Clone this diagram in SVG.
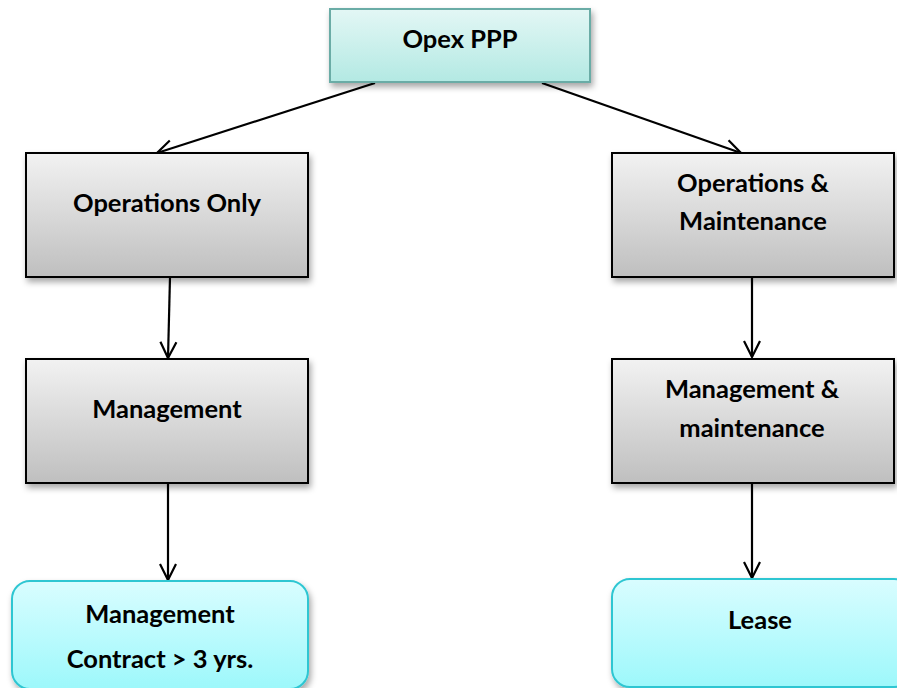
<svg xmlns="http://www.w3.org/2000/svg" width="897" height="688" viewBox="0 0 897 688">
<style>
text{font-family:Lato,"Open Sans","Liberation Sans",sans-serif;font-weight:bold;font-size:25.5px;fill:#000;text-anchor:middle}
.gray{fill:url(#g);stroke:#000;stroke-width:2;filter:url(#sh)}
.top{fill:url(#t);stroke:#6aaca6;stroke-width:2;filter:url(#sh)}
.cyan{fill:url(#c);stroke:#2ec6d2;stroke-width:2;filter:url(#sh)}
.con line{stroke:#000;stroke-width:2.2;marker-end:url(#a)}
</style>
<defs>
<linearGradient id="g" x1="0" y1="0" x2="0" y2="1"><stop offset="0" stop-color="#f2f2f2"/><stop offset="1" stop-color="#bfbfbf"/></linearGradient>
<linearGradient id="t" x1="0" y1="0" x2="0" y2="1"><stop offset="0" stop-color="#e3f7f5"/><stop offset="1" stop-color="#b3e9e3"/></linearGradient>
<linearGradient id="c" x1="0" y1="0" x2="0" y2="1"><stop offset="0" stop-color="#d9fdff"/><stop offset="1" stop-color="#9df8fb"/></linearGradient>
<filter id="sh" x="-10%" y="-10%" width="125%" height="130%"><feDropShadow dx="2" dy="4" stdDeviation="3" flood-color="#000" flood-opacity="0.35"/></filter>
<marker id="a" viewBox="0 0 20 20" refX="19" refY="10" markerWidth="20" markerHeight="20" markerUnits="userSpaceOnUse" orient="auto"><path d="M3,2 L19,10 L3,18" fill="none" stroke="#000" stroke-width="2.2"/></marker>
</defs>
<g class="con">
<line x1="375" y1="83" x2="157" y2="153"/>
<line x1="542" y1="83" x2="741" y2="153"/>
<line x1="170" y1="277" x2="168" y2="358"/>
<line x1="752" y1="277" x2="752" y2="357"/>
<line x1="168" y1="483" x2="168" y2="580"/>
<line x1="752" y1="483" x2="752" y2="578"/>
</g>
<g id="opex"><rect class="top" x="330" y="9" width="260" height="73"/><text x="460" y="48">Opex PPP</text></g>
<g id="ops-only"><rect class="gray" x="26" y="153" width="282" height="124"/><text x="167" y="212">Operations Only</text></g>
<g id="ops-maint"><rect class="gray" x="612" y="153" width="282" height="124"/><text x="753" y="192">Operations &amp;</text><text x="753" y="230">Maintenance</text></g>
<g id="mgmt"><rect class="gray" x="26" y="359" width="282" height="124"/><text x="167" y="418">Management</text></g>
<g id="mgmt-maint"><rect class="gray" x="612" y="359" width="282" height="124"/><text x="752" y="398">Management &amp;</text><text x="752" y="437">maintenance</text></g>
<g id="contract"><rect class="cyan" x="12" y="581" width="296" height="108" rx="18"/><text x="160" y="623">Management</text><text x="160" y="668">Contract &gt; 3 yrs.</text></g>
<g id="lease"><rect class="cyan" x="612" y="579" width="300" height="108" rx="18"/><text x="760" y="629">Lease</text></g>
</svg>
